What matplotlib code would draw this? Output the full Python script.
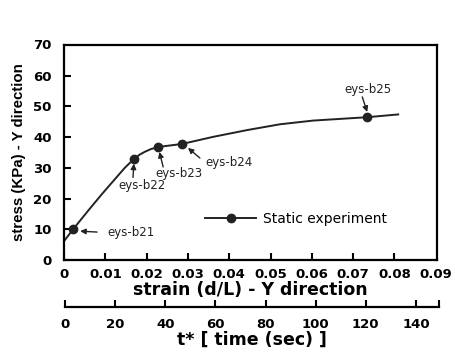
import matplotlib
matplotlib.use("Agg")
import matplotlib.pyplot as plt

# curve
strain = [0.0002, 0.0022, 0.0058, 0.0092, 0.0123, 0.0147, 0.0160, 0.0170, 0.0183,
          0.0195, 0.0210, 0.0228, 0.0257, 0.0286, 0.0361, 0.0443, 0.0523,
          0.0603, 0.0734, 0.0809]
stress = [6.5, 10.0, 16.0, 21.5, 26.3, 30.0, 31.7, 32.9, 34.3,
          35.2, 36.1, 36.8, 37.3, 37.8, 40.1, 42.3, 44.2,
          45.4, 46.5, 47.4]

# marked points
point_names = ["eys-b21", "eys-b22", "eys-b23", "eys-b24", "eys-b25"]
point_strain = [0.0022, 0.0170, 0.0228, 0.0286, 0.0734]
point_stress = [10.0, 32.9, 36.8, 37.8, 46.6]

x_ticks = [0, 0.01, 0.02, 0.03, 0.04, 0.05, 0.06, 0.07, 0.08, 0.09]
x_tick_labels = ["0", "0.01", "0.02", "0.03", "0.04", "0.05", "0.06", "0.07", "0.08", "0.09"]
y_ticks = [0, 10, 20, 30, 40, 50, 60, 70]
t_ticks = [0, 20, 40, 60, 80, 100, 120, 140]

tick_font = dict(family="DejaVu Sans", weight="bold", size=9.5)

fig = plt.figure(figsize=(4.55, 3.54), dpi=100)
ax = fig.add_axes([0.1407, 0.2655, 0.8198, 0.6073])

ax.plot(strain, stress, color="#222222", lw=1.4, zorder=2)
ax.plot(point_strain, point_stress, "o", color="#222222", ms=6, zorder=3)

ax.set_xlim(0, 0.0903)
ax.set_ylim(0, 70)
ax.set_xticks(x_ticks[:-1])
ax.set_xticklabels(x_tick_labels[:-1], fontdict=tick_font)
ax.set_yticks(y_ticks[:-1])
ax.set_yticklabels([str(v) for v in y_ticks[:-1]], fontdict=tick_font)
# labels at the right and top edges sit on the spines, no tick mark there
ax.text(0.09, -0.035, x_tick_labels[-1], transform=ax.get_xaxis_transform(),
        ha="center", va="top", **tick_font)
ax.text(-0.034, 70, str(y_ticks[-1]), transform=ax.get_yaxis_transform(),
        ha="right", va="center", **tick_font)
ax.tick_params(direction="in", length=5, width=1.5, pad=6)
ax.tick_params(axis="y", pad=9)
for s in ax.spines.values():
    s.set_linewidth(1.6)

ax.set_xlabel("strain (d/L) - Y direction", family="DejaVu Sans",
              weight="bold", size=12.5, labelpad=0)
ax.set_ylabel("stress (KPa) - Y direction", family="Liberation Sans",
              weight="bold", size=10.8, labelpad=5)

# annotations: (text, text pos, ha, arrow tail, arrow head)
notes = [
    ("eys-b21", (0.0104, 9.1), "left", (0.0080, 9.1), (0.0039, 9.4)),
    ("eys-b22", (0.0189, 24.4), "center", (0.0167, 26.9), (0.0169, 31.4)),
    ("eys-b23", (0.0278, 28.3), "center", (0.0240, 30.3), (0.0231, 35.2)),
    ("eys-b24", (0.0341, 31.9), "left", (0.0329, 33.2), (0.0300, 36.5)),
    ("eys-b25", (0.0736, 55.4), "center", (0.0722, 53.1), (0.0734, 48.2)),
]
for name, tpos, ha, tail, head in notes:
    ax.text(tpos[0], tpos[1], name, ha=ha, va="center",
            family="DejaVu Sans", size=8.5, color="#222222")
    ax.annotate("", xy=head, xytext=tail,
                arrowprops=dict(arrowstyle="-|>", color="#222222", lw=1.0,
                                mutation_scale=8, shrinkA=0, shrinkB=0))

ax.plot([], [], "-o", color="#222222", lw=1.4, ms=6, label="Static experiment")
ax.legend(loc="center left", bbox_to_anchor=(0.344, 0.19), frameon=False,
          handlelength=3.7, numpoints=1, handletextpad=0.5,
          prop=dict(family="DejaVu Sans", size=10))

# second axis: time
ax2 = fig.add_axes([0.1429, 0.1328, 0.823, 0.05])
ax2.set_xlim(0, 149.4)
ax2.set_ylim(0, 1)
ax2.set_yticks([])
for side in ["top", "left", "right"]:
    ax2.spines[side].set_visible(False)
ax2.spines["bottom"].set_linewidth(1.6)
ax2.set_xticks(t_ticks)
ax2.set_xticklabels([str(v) for v in t_ticks], fontdict=tick_font)
ax2.set_xticks([149.4], minor=True)
ax2.tick_params(axis="x", which="both", direction="in", length=5, width=1.5, pad=8)
ax2.patch.set_alpha(0)
ax2.set_xlabel("t* [ time (sec) ]", family="DejaVu Sans", weight="bold",
               size=12.5, labelpad=0)

fig.savefig("out.png", dpi=100)
